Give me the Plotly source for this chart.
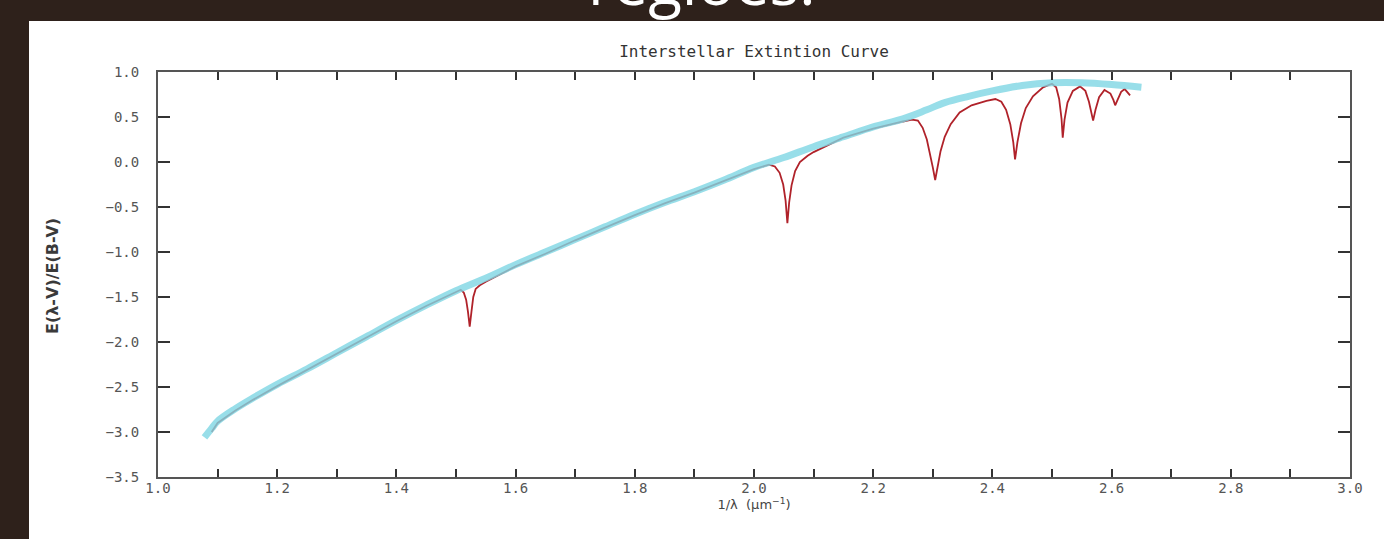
import plotly.graph_objects as go

# ---------------- data ----------------
# observed curve (thick cyan band)
obs_x = [1.078, 1.09, 1.10, 1.13, 1.16, 1.20, 1.25, 1.30, 1.35, 1.40, 1.45, 1.50,
         1.55, 1.60, 1.65, 1.70, 1.75, 1.80, 1.85, 1.90, 1.95, 2.00, 2.05, 2.10,
         2.15, 2.20, 2.25, 2.29, 2.32, 2.36, 2.40, 2.45, 2.50, 2.55, 2.60, 2.65]
obs_y = [-3.06, -2.96, -2.88, -2.74, -2.62, -2.47, -2.30, -2.12, -1.94, -1.76, -1.59, -1.43,
         -1.29, -1.14, -1.00, -0.86, -0.72, -0.58, -0.45, -0.33, -0.20, -0.06, 0.05, 0.17,
         0.28, 0.39, 0.48, 0.58, 0.66, 0.73, 0.79, 0.85, 0.88, 0.88, 0.86, 0.83]

# model curve with absorption dips (thin red line)
model_x = [1.09, 1.10, 1.13, 1.16, 1.20, 1.25, 1.30, 1.35, 1.40, 1.45, 1.49, 1.50,
           1.508, 1.513, 1.517, 1.520, 1.523, 1.526, 1.529, 1.533, 1.54, 1.55, 1.60, 1.65,
           1.70, 1.75, 1.80, 1.85, 1.90, 1.95, 2.00, 2.025, 2.035, 2.043, 2.049, 2.053,
           2.056, 2.059, 2.063, 2.069, 2.077, 2.09, 2.10, 2.15, 2.20, 2.25, 2.265, 2.275,
           2.283, 2.290, 2.296, 2.300, 2.304, 2.308, 2.313, 2.320, 2.330, 2.345, 2.365, 2.39,
           2.405, 2.415, 2.423, 2.430, 2.435, 2.438, 2.442, 2.448, 2.456, 2.468, 2.485, 2.500,
           2.507, 2.512, 2.516, 2.518, 2.521, 2.526, 2.535, 2.547, 2.556, 2.562, 2.566, 2.569,
           2.573, 2.579, 2.588, 2.598, 2.603, 2.606, 2.610, 2.616, 2.622, 2.631]
model_y = [-3.00, -2.90, -2.76, -2.64, -2.49, -2.31, -2.13, -1.95, -1.77, -1.60, -1.47, -1.44,
           -1.42, -1.45, -1.53, -1.66, -1.83, -1.66, -1.50, -1.41, -1.37, -1.33, -1.16, -1.02,
           -0.87, -0.73, -0.59, -0.46, -0.34, -0.21, -0.08, -0.03, -0.05, -0.12, -0.25, -0.43,
           -0.68, -0.45, -0.26, -0.10, 0.00, 0.07, 0.11, 0.27, 0.37, 0.45, 0.47, 0.46,
           0.38, 0.25, 0.08, -0.06, -0.20, -0.05, 0.12, 0.28, 0.42, 0.55, 0.63, 0.68,
           0.70, 0.67, 0.58, 0.42, 0.22, 0.03, 0.22, 0.43, 0.60, 0.73, 0.83, 0.87,
           0.83, 0.70, 0.48, 0.27, 0.47, 0.66, 0.79, 0.84, 0.79, 0.67, 0.56, 0.46,
           0.58, 0.72, 0.80, 0.76, 0.69, 0.63, 0.69, 0.78, 0.81, 0.74]

x_tick_vals = [1.0, 1.2, 1.4, 1.6, 1.8, 2.0, 2.2, 2.4, 2.6, 2.8, 3.0]
x_tick_text = ["1.0", "1.2", "1.4", "1.6", "1.8", "2.0", "2.2", "2.4", "2.6", "2.8", "3.0"]
y_tick_vals = [-3.5, -3.0, -2.5, -2.0, -1.5, -1.0, -0.5, 0.0, 0.5, 1.0]
y_tick_text = ["\u22123.5", "\u22123.0", "\u22122.5", "\u22122.0", "\u22121.5",
               "\u22121.0", "\u22120.5", "0.0", "0.5", "1.0"]

chart_title = "Interstellar Extintion Curve"
x_title = "1/\u03bb  (\u03bcm<sup>\u22121</sup>)"
y_title = "E(\u03bb-V)/E(B-V)"
slide_text = "regi\u00f5es."

# ---------------- layout geometry (pixels) ----------------
W, H = 1384, 539
L, R, T, B = 158, 34, 72, 62
pw, ph = W - L - R, H - T - B


def px_to_paper_x(px):
    return (px - L) / pw


def px_to_paper_y(py):
    return (H - B - py) / ph


tick_font = dict(family="DejaVu Sans Mono", size=14, color="#555555")

fig = go.Figure()
fig.add_trace(go.Scatter(x=model_x, y=model_y, mode="lines",
                         line=dict(color="#b0222a", width=1.8),
                         showlegend=False, hoverinfo="skip"))
fig.add_trace(go.Scatter(x=obs_x, y=obs_y, mode="lines",
                         line=dict(color="#7fd7e4", width=7, shape="spline"),
                         opacity=0.8, showlegend=False, hoverinfo="skip"))

fig.update_layout(
    width=W, height=H, autosize=False,
    paper_bgcolor="#2e211b", plot_bgcolor="white",
    margin=dict(l=L, r=R, t=T, b=B, pad=0),
    title=dict(text=chart_title, x=0.5, xref="paper", xanchor="center",
               y=1 - 51 / H, yref="container", yanchor="middle",
               font=dict(family="DejaVu Sans Mono", size=16, color="#333333")),
    shapes=[dict(type="rect", xref="paper", yref="paper", layer="below",
                 x0=px_to_paper_x(29), x1=px_to_paper_x(W + 10),
                 y0=px_to_paper_y(H + 10), y1=px_to_paper_y(21),
                 fillcolor="white", line=dict(width=0))],
    annotations=[
        dict(text=slide_text, xref="paper", yref="paper",
             x=px_to_paper_x(701), y=px_to_paper_y(25), xanchor="center", yanchor="bottom",
             showarrow=False, font=dict(family="Open Sans", size=62, color="white")),
        dict(text=y_title, xref="paper", yref="paper",
             x=px_to_paper_x(52), y=px_to_paper_y(276), xanchor="center", yanchor="middle",
             textangle=-90, showarrow=False,
             font=dict(family="DejaVu Sans", size=16, color="#3a3a3a", weight="bold")),
    ],
)

fig.update_xaxes(range=[1.0, 3.0], tickmode="array", tickvals=x_tick_vals, ticktext=x_tick_text,
                 ticks="inside", ticklen=8, tickwidth=1.5, tickcolor="#333333",
                 minor=dict(tickmode="linear", tick0=1.0, dtick=0.1, ticks="inside",
                            ticklen=8, tickwidth=1.5, tickcolor="#333333", showgrid=False),
                 showline=True, linecolor="#555555", linewidth=2, mirror="ticks",
                 showgrid=False, zeroline=False, tickfont=tick_font, ticklabelstandoff=-3,
                 title=dict(text=x_title, standoff=0,
                            font=dict(family="DejaVu Sans", size=13, color="#444444")))
fig.update_yaxes(range=[-3.5, 1.0], tickmode="array", tickvals=y_tick_vals, ticktext=y_tick_text,
                 ticks="inside", ticklen=12, tickwidth=2, tickcolor="#333333",
                 showline=True, linecolor="#555555", linewidth=2, mirror="ticks",
                 showgrid=False, zeroline=False, tickfont=tick_font, ticklabelstandoff=14)

fig.write_html(
    "out.html",
    config={"displayModeBar": False},
    post_script="document.body.style.margin='0';document.body.style.background='#2e211b';",
)
